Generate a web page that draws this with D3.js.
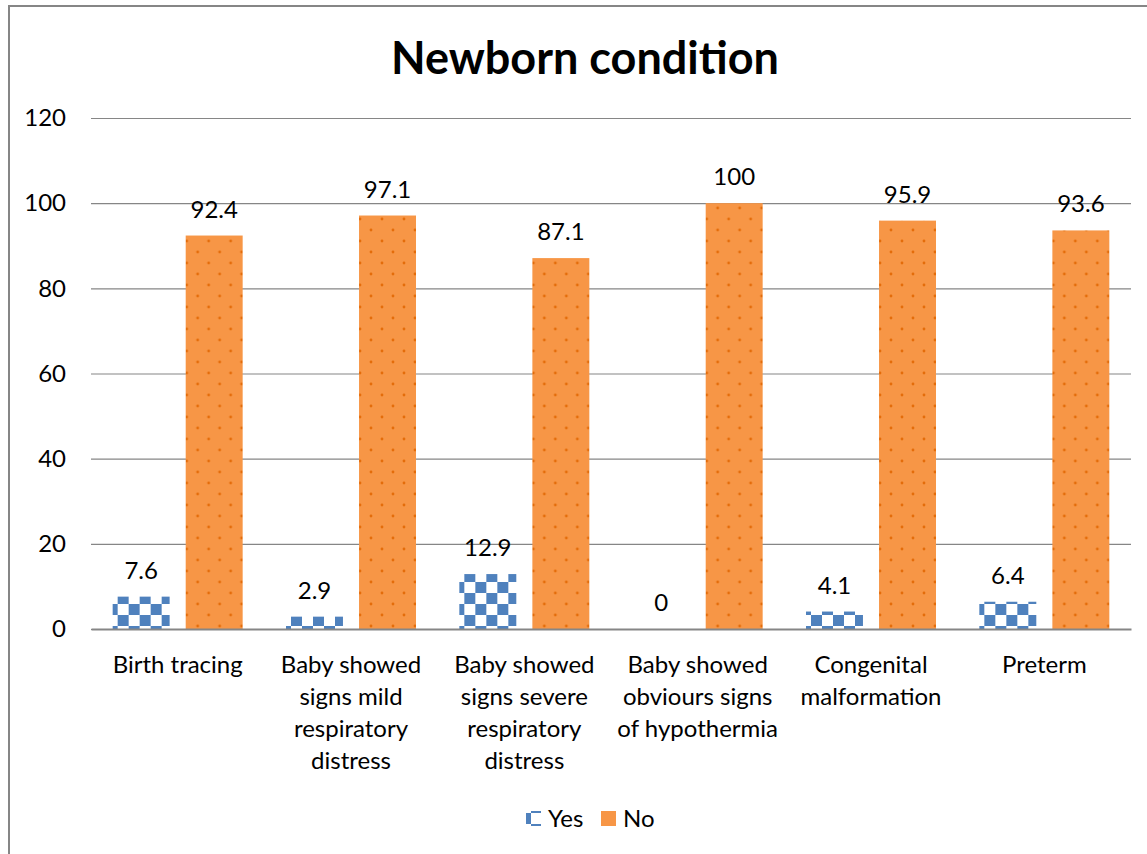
<!DOCTYPE html>
<html>
<head>
<meta charset="utf-8">
<script src="https://cdn.jsdelivr.net/npm/d3@7"></script>
<style>
  body { margin: 0; background: #fff; }
  text { font-family: Lato, "Open Sans", sans-serif; fill: #000; }
</style>
</head>
<body>
<div id="chart"></div>
<script>
// data
var categories = ["Birth tracing",
    "Baby showed signs mild respiratory distress",
    "Baby showed signs severe respiratory distress",
    "Baby showed obviours signs of hypothermia",
    "Congenital malformation",
    "Preterm"];
var labelLines = [["Birth tracing"],
    ["Baby showed", "signs mild", "respiratory", "distress"],
    ["Baby showed", "signs severe", "respiratory", "distress"],
    ["Baby showed", "obviours signs", "of hypothermia"],
    ["Congenital", "malformation"],
    ["Preterm"]];
var seriesNames = ["Yes", "No"];
var yesValues = [7.6, 2.9, 12.9, 0, 4.1, 6.4];
var noValues = [92.4, 97.1, 87.1, 100, 95.9, 93.6];
var yTicks = [0, 20, 40, 60, 80, 100, 120];

var W = 1147, H = 854;
var margin = {top: 118, right: 16, bottom: 225, left: 91},
    width = W - margin.left - margin.right,
    height = H - margin.top - margin.bottom;

var svg = d3.select("#chart").append("svg")
    .attr("width", W)
    .attr("height", H);

// patterns
var defs = svg.append("defs");
var checker = defs.append("pattern")
    .attr("id", "checker")
    .attr("patternUnits", "userSpaceOnUse")
    .attr("width", 22).attr("height", 22)
    .attr("x", margin.left + 2).attr("y", margin.top + height);
checker.append("rect").attr("width", 22).attr("height", 22).attr("fill", "#fff");
checker.append("rect").attr("x", 0).attr("y", 0).attr("width", 11).attr("height", 11).attr("fill", "#4f81bd");
checker.append("rect").attr("x", 11).attr("y", 11).attr("width", 11).attr("height", 11).attr("fill", "#4f81bd");

var dots = defs.append("pattern")
    .attr("id", "dots")
    .attr("patternUnits", "userSpaceOnUse")
    .attr("width", 22).attr("height", 22)
    .attr("x", margin.left).attr("y", margin.top);
dots.append("rect").attr("width", 22).attr("height", 22).attr("fill", "#f79646");
dots.append("circle").attr("cx", 5).attr("cy", 5).attr("r", 1.4).attr("fill", "#e46c0a");
dots.append("circle").attr("cx", 16).attr("cy", 16).attr("r", 1.4).attr("fill", "#e46c0a");

// chart border
svg.append("rect")
    .attr("x", 9).attr("y", 6)
    .attr("width", 1160).attr("height", 860)
    .attr("fill", "none")
    .attr("stroke", "#868686")
    .attr("stroke-width", 2);

// title
svg.append("text")
    .attr("x", 585)
    .attr("y", 74)
    .attr("text-anchor", "middle")
    .style("font-size", "45px")
    .style("font-weight", "bold")
    .text("Newborn condition");

var g = svg.append("g")
    .attr("transform", "translate(" + margin.left + "," + margin.top + ")");

// scales
var x0 = d3.scaleBand().domain(categories).range([0, width])
    .paddingInner(0.25).paddingOuter(0.125);
var x1 = d3.scaleBand().domain(seriesNames).range([0, x0.bandwidth()])
    .paddingInner(0.22);
var y = d3.scaleLinear().domain([0, 120]).range([height, 0]);

// gridlines + y labels
var yAxis = g.append("g")
    .call(d3.axisLeft(y).tickValues(yTicks).tickSize(-width).tickPadding(25));
yAxis.select(".domain").remove();
yAxis.selectAll(".tick line")
    .attr("stroke", "#868686")
    .attr("stroke-width", 1.2);
yAxis.selectAll(".tick text")
    .style("font-size", "24px")
    .style("font-family", "Lato, sans-serif");

var rows = categories.map(function(c, i) {
    return {cat: c, vals: [
        {s: "Yes", v: yesValues[i]},
        {s: "No", v: noValues[i]}
    ]};
});

var groups = g.selectAll(".grp")
    .data(rows)
    .enter().append("g")
    .attr("class", "grp")
    .attr("transform", function(d) { return "translate(" + x0(d.cat) + ",0)"; });

groups.selectAll("rect")
    .data(function(d) { return d.vals; })
    .enter().append("rect")
    .attr("x", function(d) { return x1(d.s); })
    .attr("y", function(d) { return y(d.v); })
    .attr("width", x1.bandwidth())
    .attr("height", function(d) { return height - y(d.v); })
    .attr("fill", function(d) { return d.s == "Yes" ? "url(#checker)" : "url(#dots)"; });

groups.selectAll(".val")
    .data(function(d) { return d.vals; })
    .enter().append("text")
    .attr("class", "val")
    .attr("x", function(d) { return x1(d.s) + x1.bandwidth() / 2; })
    .attr("y", function(d) { return y(d.v) - 18; })
    .attr("text-anchor", "middle")
    .style("font-size", "24px")
    .text(function(d) { return d.v; });

// x axis
var xAxis = g.append("g")
    .attr("transform", "translate(0," + height + ")")
    .call(d3.axisBottom(x0).tickSize(0).tickSizeOuter(0));
xAxis.select(".domain")
    .attr("stroke", "#868686")
    .attr("stroke-width", 2);
xAxis.selectAll(".tick text").each(function(d, i) {
    var t = d3.select(this).text(null)
        .attr("y", 0)
        .attr("dy", null)
        .style("font-size", "24px")
        .style("font-family", "Lato, sans-serif");
    labelLines[i].forEach(function(line, j) {
        t.append("tspan")
            .attr("x", 0)
            .attr("y", 44 + j * 32)
            .text(line);
    });
});

// legend
var legend = svg.append("g").attr("transform", "translate(526,811)");
legend.append("rect").attr("x", 0).attr("y", 0).attr("width", 15).attr("height", 15)
    .attr("fill", "url(#checker)");
legend.append("text").attr("x", 22).attr("y", 16).style("font-size", "24px").text(seriesNames[0]);
legend.append("rect").attr("x", 75).attr("y", 0).attr("width", 15).attr("height", 15)
    .attr("fill", "#f79646");
legend.append("text").attr("x", 97).attr("y", 16).style("font-size", "24px").text(seriesNames[1]);
</script>
</body>
</html>
